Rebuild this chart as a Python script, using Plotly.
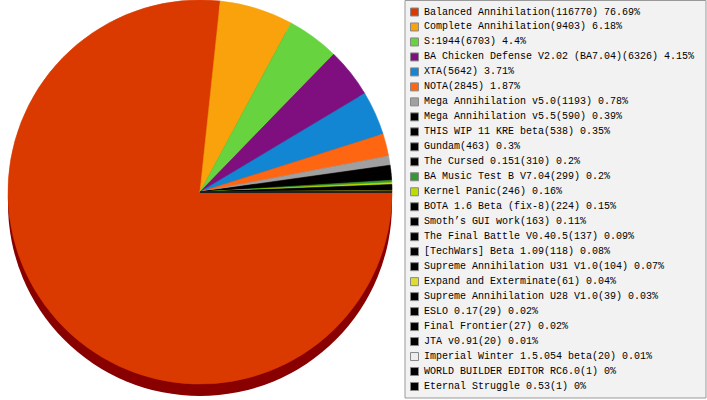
import plotly.graph_objects as go

# mod usage share
names = ["Balanced Annihilation", "Complete Annihilation", "S:1944",
         "BA Chicken Defense V2.02 (BA7.04)", "XTA", "NOTA",
         "Mega Annihilation v5.0", "Mega Annihilation v5.5", "THIS WIP 11 KRE beta",
         "Gundam", "The Cursed 0.151", "BA Music Test B V7.04", "Kernel Panic",
         "BOTA 1.6 Beta (fix-8)", "Smoth’s GUI work", "The Final Battle V0.40.5",
         "[TechWars] Beta 1.09", "Supreme Annihilation U31 V1.0", "Expand and Exterminate",
         "Supreme Annihilation U28 V1.0", "ESLO 0.17", "Final Frontier", "JTA v0.91",
         "Imperial Winter 1.5.054 beta", "WORLD BUILDER EDITOR RC6.0", "Eternal Struggle 0.53"]
counts = [116770, 9403, 6703, 6326, 5642, 2845, 1193, 590, 538, 463, 310, 299, 246,
          224, 163, 137, 118, 104, 61, 39, 29, 27, 20, 20, 1, 1]
pcts = ["76.69", "6.18", "4.4", "4.15", "3.71", "1.87", "0.78", "0.39", "0.35", "0.3",
        "0.2", "0.2", "0.16", "0.15", "0.11", "0.09", "0.08", "0.07", "0.04", "0.03",
        "0.02", "0.02", "0.01", "0.01", "0", "0"]
colors = ["#DA3A00", "#F9A20C", "#66D33F", "#7F0F7E", "#1285D3", "#FF6611",
          "#A0A0A0", "#000000", "#000000", "#000000", "#000000", "#339933", "#BBDD00",
          "#000000", "#000000", "#000000", "#000000", "#000000", "#DDDD33",
          "#000000", "#000000", "#000000", "#000000", "#EEEEEE", "#000000", "#000000"]

W, H = 707, 400
cx, cy, r = 200, 192, 192
depth = 12

fig = go.Figure()

# dark "side" of the pie, a copy shifted down
fig.add_trace(go.Pie(values=[1], marker=dict(colors=["#880000"]), textinfo="none",
                     hoverinfo="skip", showlegend=False, sort=False,
                     domain=dict(x=[(cx - r) / W, (cx + r) / W],
                                 y=[(H - cy - r - depth) / H, (H - cy + r - depth) / H])))

# slice outlines in the slice colour so no white seams show
fig.add_trace(go.Pie(labels=names, values=counts,
                     marker=dict(colors=colors, line=dict(color=colors, width=0.6)),
                     textinfo="none", sort=False, direction="clockwise", rotation=90,
                     showlegend=False,
                     domain=dict(x=[(cx - r) / W, (cx + r) / W],
                                 y=[(H - cy - r) / H, (H - cy + r) / H])))

# legend box drawn by hand (plotly's legend rows are too tall for 26 entries)
shapes = [dict(type="rect", xref="paper", yref="paper", x0=405 / W, x1=706 / W,
               y0=2 / H, y1=1 - 0.5 / H, fillcolor="#F2F2F2",
               line=dict(color="#999999", width=1))]
annots = []
for i, name in enumerate(names):
    yc = 12 + i * 14.98
    shapes.append(dict(type="rect", xref="paper", yref="paper",
                       x0=410.5 / W, x1=418.5 / W, y0=(H - yc - 4) / H, y1=(H - yc + 4) / H,
                       fillcolor=colors[i], line=dict(color="#888888", width=1)))
    annots.append(dict(xref="paper", yref="paper", x=422 / W, y=(H - yc) / H,
                       xanchor="left", yanchor="middle", showarrow=False,
                       text=f"{name}({counts[i]}) {pcts[i]}%",
                       font=dict(family="Liberation Mono", size=10, color="#000000")))

fig.update_layout(width=W, height=H, margin=dict(l=0, r=0, t=0, b=0),
                  paper_bgcolor="white", shapes=shapes, annotations=annots)

fig.write_html("out.html", config={"displayModeBar": False},
               post_script="document.body.style.margin = '0';")
